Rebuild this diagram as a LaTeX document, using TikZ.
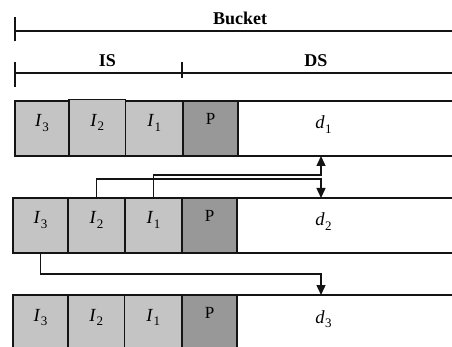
\documentclass[tikz,border=0pt]{standalone}
\usepackage{fontspec}
\setmainfont{Liberation Serif}
\usetikzlibrary{arrows.meta}
\definecolor{idxgray}{RGB}{196,196,196}
\definecolor{ptrgray}{RGB}{152,152,152}
\definecolor{ink}{RGB}{20,20,20}
% italic letter with a lowered upright index
\newcommand\lbl[2]{\textit{#1}\kern0.3pt\raisebox{-4.5pt}{\fontsize{13}{13}\selectfont #2}}

\begin{document}
\begin{tikzpicture}[x=1pt,y=-1pt,
  rule/.style={line width=1.4pt,draw=ink},
  cell/.style={draw=ink,line width=1.4pt,inner sep=0pt,outer sep=0pt,
    anchor=north west,minimum height=55pt,
    font=\fontsize{18.5}{18.5}\selectfont,text height=12pt,text depth=15pt},
  idx/.style={cell,fill=idxgray},
  ptr/.style={cell,fill=ptrgray,font=\fontsize{17}{17}\selectfont,
    text height=11pt,text depth=19pt},
  data/.style={cell,fill=white,minimum width=230pt},
  dlbl/.style={anchor=base,font=\fontsize{18.5}{18.5}\selectfont,inner sep=0pt},
  head/.style={font=\bfseries\fontsize{18}{18}\selectfont,anchor=base,inner sep=0pt},
  link/.style={line width=1.4pt,draw=ink,-{Triangle[length=10pt,width=9pt]}}
]
\useasboundingbox (0,0) rectangle (452,347);
\clip (0,0) rectangle (452,347);

% bucket ruler
\coordinate (bl) at (15,31);
\coordinate (br) at (460,31);
\draw[rule] (bl) -- (br);
\draw[rule] ([yshift=-10.5pt]bl) -- ([yshift=13.5pt]bl);
\node[head] (bucket) at (240,25) {Bucket};

% IS / DS ruler
\coordinate (sl) at (15,73);
\coordinate (sm) at (182,73);
\coordinate (sr) at (460,73);
\draw[rule] (sl) -- (sr);
\draw[rule] ([yshift=-14pt]sl) -- ([yshift=10.5pt]sl);
\draw[rule] ([yshift=-5pt]sm) -- ([yshift=10.5pt]sm);
\node[head] (is) at (107.5,67) {IS};
\node[head] (ds) at (316,67) {DS};

% row 1
\node[data] (r1d) at (238,101) {};
\node[idx,minimum width=54pt] (r1i3) at (15,101) {\lbl{I}{3}};
\node[idx,minimum width=56.5pt,minimum height=56.5pt] (r1i2) at (69,99.5) {\lbl{I}{2}};
\node[idx,minimum width=57.5pt] (r1i1) at (125.5,101) {\lbl{I}{1}};
\node[ptr,minimum width=55pt] (r1p) at (183,101) {P};
\node[dlbl] (d1) at (323.5,129) {\lbl{d}{1}};

% row 2
\node[data] (r2d) at (237,198) {};
\node[idx,minimum width=55pt] (r2i3) at (13,198) {\lbl{I}{3}};
\node[idx,minimum width=57pt] (r2i2) at (68,198) {\lbl{I}{2}};
\node[idx,minimum width=57pt] (r2i1) at (125,198) {\lbl{I}{1}};
\node[ptr,minimum width=55pt] (r2p) at (182,198) {P};
\node[dlbl] (d2) at (323.5,226) {\lbl{d}{2}};

% row 3
\node[data] (r3d) at (237,295) {};
\node[idx,minimum width=55pt] (r3i3) at (13,295) {\lbl{I}{3}};
\node[idx,minimum width=56.5pt] (r3i2) at (68,295) {\lbl{I}{2}};
\node[idx,minimum width=57.5pt] (r3i1) at (124.5,295) {\lbl{I}{1}};
\node[ptr,minimum width=55pt] (r3p) at (182,295) {P};
\node[dlbl] (d3) at (323.5,323) {\lbl{d}{3}};

% links between the rows
\coordinate (k1) at (321,175);
\coordinate (k2) at (321,179);
\coordinate (k3) at (321,274);
\draw[link] (r2i1.north) |- (k1) -- (k1 |- r1d.south);
\draw[link] (r2i2.north) |- (k2) -- (k2 |- r2d.north);
\draw[link] (r2i3.south) |- (k3) -- (k3 |- r3d.north);
\end{tikzpicture}
\end{document}
